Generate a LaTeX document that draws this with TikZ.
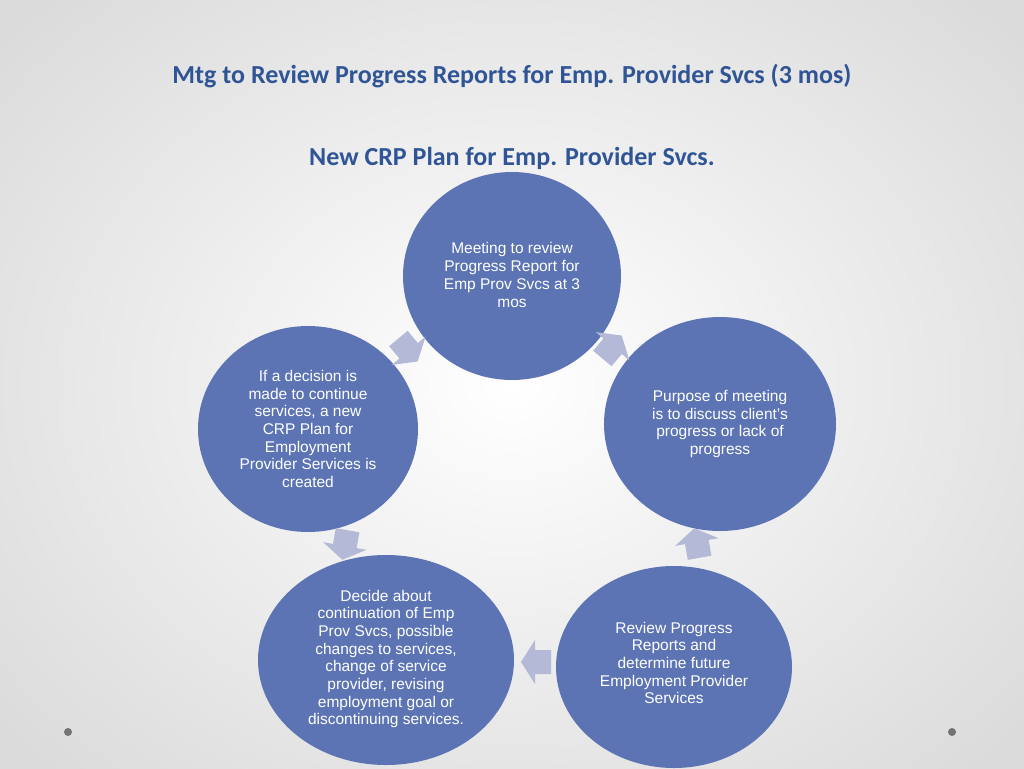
\documentclass[tikz,border=0pt]{standalone}
\usepackage{fontspec}
\setmainfont{Liberation Sans}
\newfontfamily\titlefont{Carlito}
\definecolor{circ}{HTML}{5C74B4}
\definecolor{arr}{HTML}{B3B9D7}
\definecolor{ttl}{HTML}{2F5597}
\begin{document}
\begin{tikzpicture}[x=1pt,y=-1pt,
  bub/.style={fill=circ,ellipse,inner sep=0pt},
  txt/.style={text=white,align=center,font=\fontsize{15.5}{17.7}\selectfont},
  cyc/.style={fill=arr}]
\useasboundingbox (0,0) rectangle (1024,768);
\shade[inner color=white,outer color=black!14] (-150,-150) rectangle (1174,918);
\node[text=ttl,font=\titlefont\bfseries\fontsize{26}{30}\selectfont] (title) at (512,76) {Mtg to Review Progress Reports for Emp. Provider Svcs (3 mos)};
\node[text=ttl,font=\titlefont\bfseries\fontsize{26}{30}\selectfont] (sub) at (512,158) {New CRP Plan for Emp. Provider Svcs.};
\fill[circ] (512,276) ellipse [x radius=109,y radius=104];
\fill[circ] (720,424) ellipse [x radius=116,y radius=107];
\fill[circ] (674,667) ellipse [x radius=118,y radius=101];
\fill[circ] (386,660) ellipse [x radius=128,y radius=105];
\fill[circ] (308,429) ellipse [x radius=110,y radius=103];
\node[txt] (t1) at (512,275) {Meeting to review\\Progress Report for\\Emp Prov Svcs at 3\\mos};
\node[txt] (t2) at (720,424) {Purpose of meeting\\is to discuss client’s\\progress or lack of\\progress};
\node[txt] (t3) at (674,663) {Review Progress\\Reports and\\determine future\\Employment Provider\\Services};
\node[txt] (t4) at (386,659) {Decide about\\continuation of Emp\\Prov Svcs, possible\\changes to services,\\change of service\\provider, revising\\employment goal or\\discontinuing services.};
\node[txt] (t5) at (308,429) {If a decision is\\made to continue\\services, a new\\CRP Plan for\\Employment\\Provider Services is\\created};
\foreach \px/\py/\ang in {612/347/50, 697/543/100, 536/662/180, 345/545/260, 408/350/-50}{
  \fill[arr,shift={(\px,\py)},rotate=\ang] (15,0) -- (1,-22) -- (1,-12) -- (-15,-12) -- (-15,12) -- (1,12) -- (1,22) -- cycle;
}
\fill[black!55] (68,732) circle (4);
\fill[black!55] (952,732) circle (4);
\end{tikzpicture}
\end{document}
